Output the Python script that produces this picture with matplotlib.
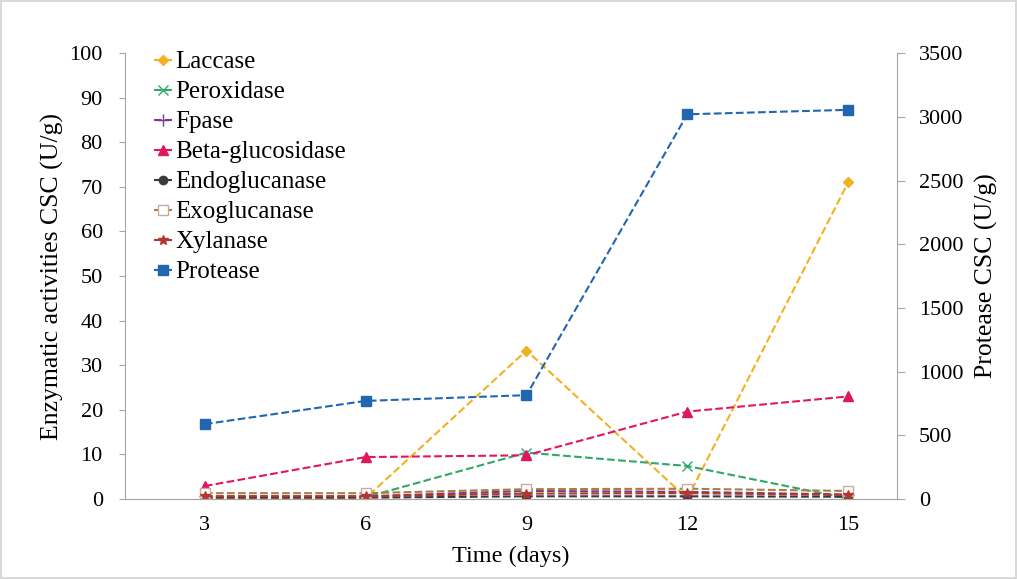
import numpy as np
import matplotlib.pyplot as plt

plt.rcParams['font.family'] = ['Liberation Serif', 'DejaVu Serif']

days = [3, 6, 9, 12, 15]
laccase = [0.2, 0.2, 33.3, 0.1, 71.0]
peroxidase = [0.4, 0.4, 10.4, 7.4, 0.1]
fpase = [0.6, 0.6, 1.8, 1.6, 1.0]
beta_glucosidase = [2.9, 9.4, 9.8, 19.6, 23.0]
endoglucanase = [0.3, 0.3, 0.6, 0.6, 0.5]
exoglucanase = [1.3, 1.3, 2.2, 2.3, 1.8]
xylanase = [0.6, 0.6, 1.2, 1.3, 0.9]
protease = [588, 770, 815, 3020, 3055]

fig = plt.figure(figsize=(10.17, 5.79), dpi=100)
fig.patch.set_edgecolor('#d9d9d9')
fig.patch.set_linewidth(1.5)
ax = fig.add_axes([0.1229, 0.1382, 0.759, 0.770])
ax2 = ax.twinx()

series = [
    ('Laccase', laccase, '#f2b120', dict(marker='D', ms=5)),
    ('Peroxidase', peroxidase, '#2fa86a', dict(marker='x', ms=7, mew=1)),
    ('Fpase', fpase, '#7a3a8c', dict(marker='+', ms=8, mew=1)),
    ('Beta-glucosidase', beta_glucosidase, '#e2165e', dict(marker='^', ms=7)),
    ('Endoglucanase', endoglucanase, '#3a3a3a', dict(marker='o', ms=6)),
    ('Exoglucanase', exoglucanase, '#a3813f', dict(marker='s', ms=7, mfc='white', mec='#c9a9a0')),
    ('Xylanase', xylanase, '#b5352f', dict(marker='*', ms=7)),
]
handles = []
for name, vals, col, kw in series:
    h, = ax.plot(days, vals, ls='--', color=col, lw=1.5, label=name, **kw)
    handles.append(h)
h, = ax2.plot(days, protease, ls='--', color='#2066b0', lw=1.5, marker='s', ms=7,
              label='Protease')
handles.append(h)

ax.set_xlim(1.51, 15.91)
ax.set_ylim(0, 100)
ax.set_yticks(np.arange(0, 101, 10))
ax2.set_ylim(0, 3500)
ax2.set_yticks(np.arange(0, 3501, 500))
ax.set_xticks(days)

for a in (ax, ax2):
    a.spines['top'].set_visible(False)
    for s in ('left', 'right', 'bottom'):
        a.spines[s].set_color('#a6a6a6')
    a.tick_params(labelsize=16, color='#a6a6a6')
ax.tick_params(axis='y', length=4, pad=12)
ax2.tick_params(axis='y', length=6, pad=10)
ax.tick_params(axis='x', length=0, pad=12)
ax2.spines['left'].set_visible(False)
ax.spines['right'].set_visible(False)

ax.set_xlabel('Time (days)', fontsize=17.5, labelpad=8)
ax.set_ylabel('Enzymatic activities CSC (U/g)', fontsize=18.5, labelpad=4)
ax2.set_ylabel('Protease CSC (U/g)', fontsize=18.5, labelpad=8)

ax.legend(handles=handles, loc='upper left', bbox_to_anchor=(0.038, 1.005), frameon=False,
          fontsize=18, handlelength=0.7, handletextpad=0.15, labelspacing=0.3,
          borderaxespad=0, borderpad=0)

fig.savefig('out.png', dpi=100, edgecolor=fig.get_edgecolor())
